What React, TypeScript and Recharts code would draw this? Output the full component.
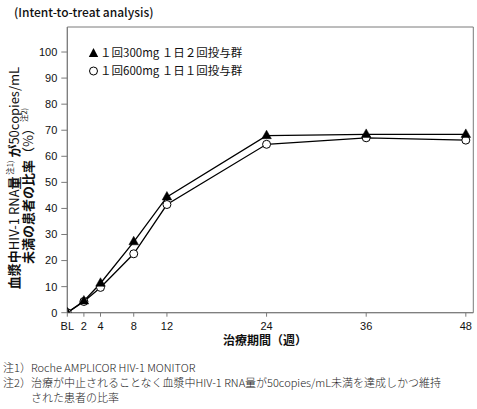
import React from 'react';
import { LineChart, Line, XAxis, YAxis, ReferenceArea } from 'recharts';

const weeks = [0, 2, 4, 8, 12, 24, 36, 48];
const twiceDaily300 = [0, 4.5, 11.3, 27.2, 44.4, 67.9, 68.4, 68.4];
const onceDaily600 = [0, 4.3, 9.7, 22.6, 41.5, 64.6, 67.1, 66.2];
const xTicks = [0, 2, 4, 8, 12, 24, 36, 48];
const xTickLabels = ['BL', '2', '4', '8', '12', '24', '36', '48'];
const yTicks = [0, 10, 20, 30, 40, 50, 60, 70, 80, 90, 100];
const seriesNames = ['１回300mg １日２回投与群', '１回600mg １日１回投与群'];

const data = weeks.map((w, i) => ({ week: w, twice: twiceDaily300[i], once: onceDaily600[i] }));

const JP = '"Noto Sans CJK JP", "Noto Sans", sans-serif';
const LAT = '"Liberation Sans", Arial, sans-serif';
const AXIS = '#7a7a7a';

const TriangleDot = (props: any) => {
  const { cx, cy, index } = props;
  if (cx == null || cy == null) return <g key={`t${index}`} />;
  return (
    <polygon
      key={`t${index}`}
      points={`${cx},${cy - 5.5} ${cx - 4.8},${cy + 3} ${cx + 4.8},${cy + 3}`}
      fill="#000"
      stroke="#000"
      strokeWidth={0.5}
    />
  );
};

const CircleDot = (props: any) => {
  const { cx, cy, index } = props;
  if (cx == null || cy == null) return <g key={`c${index}`} />;
  return <circle key={`c${index}`} cx={cx} cy={cy} r={4} fill="#fff" stroke="#000" strokeWidth={1} />;
};

export default function App() {
  return (
    <div style={{ position: 'absolute', left: 0, top: 0, width: 477, height: 409, background: '#fff' }}>
      <LineChart
        width={477}
        height={409}
        data={data}
        margin={{ top: 27, right: 3.7, bottom: 66.3, left: 7.3 }}
      >
        <XAxis
          dataKey="week"
          type="number"
          domain={[0, 48.9]}
          ticks={xTicks}
          allowDataOverflow
          height={30}
          interval={0}
          tickFormatter={(v: number) => xTickLabels[xTicks.indexOf(v)]}
          tick={{ fontFamily: LAT, fontSize: 11, fill: '#111' }}
          tickSize={4}
          tickMargin={5}
          axisLine={{ stroke: AXIS }}
          tickLine={{ stroke: AXIS }}
        />
        <YAxis
          type="number"
          domain={[0, 109.6]}
          ticks={yTicks}
          allowDataOverflow
          width={60}
          interval={0}
          tick={{ fontFamily: LAT, fontSize: 11, fill: '#111' }}
          tickSize={6}
          tickMargin={4}
          axisLine={{ stroke: AXIS }}
          tickLine={{ stroke: AXIS }}
        />
        <ReferenceArea x1={0} x2={48.9} y1={0} y2={109.6} fill="none" stroke={AXIS} strokeWidth={1} ifOverflow="visible" />
        <Line
          dataKey="once"
          name={seriesNames[1]}
          stroke="#000"
          strokeWidth={1.3}
          isAnimationActive={false}
          dot={(p: any) => <CircleDot {...p} />}
          activeDot={false}
        />
        <Line
          dataKey="twice"
          name={seriesNames[0]}
          stroke="#000"
          strokeWidth={1.3}
          isAnimationActive={false}
          dot={(p: any) => <TriangleDot {...p} />}
          activeDot={false}
        />
      </LineChart>
      <svg
        width={477}
        height={409}
        style={{ position: 'absolute', left: 0, top: 0, pointerEvents: 'none' }}
      >
        <text x={14} y={17} fontFamily={JP} fontSize={12} fontWeight={500} fill="#111">
          (Intent-to-treat analysis)
        </text>

        <g fontFamily={JP} fontSize={11.5} fill="#111">
          <polygon points="93.5,48 88.8,57 98.2,57" fill="#000" />
          <text x={100} y={57}>{seriesNames[0]}</text>
          <circle cx={93.5} cy={71} r={4} fill="#fff" stroke="#000" strokeWidth={1} />
          <text x={100} y={75}>{seriesNames[1]}</text>
        </g>

        <text
          transform="translate(19,178) rotate(-90)"
          textAnchor="middle"
          fontFamily={JP}
          fontSize={13}
          fontWeight="bold"
          fill="#111"
        >
          <tspan>血漿中</tspan>
          <tspan fontWeight="normal">HIV-1 RNA</tspan>
          <tspan>量</tspan>
          <tspan fontSize={7.5} fontWeight="normal" baselineShift="6">{' 注1)'}</tspan>
          <tspan>{' が'}</tspan>
          <tspan fontWeight="normal">50copies/mL</tspan>
        </text>
        <text
          transform="translate(33,186) rotate(-90)"
          textAnchor="middle"
          fontFamily={JP}
          fontSize={13}
          fontWeight="bold"
          fill="#111"
        >
          <tspan>未満の患者の比率</tspan>
          <tspan fontWeight="normal">（%）</tspan>
          <tspan fontSize={7.5} fontWeight="normal" baselineShift="6">注2)</tspan>
        </text>

        <text x={265} y={345} textAnchor="middle" fontFamily={JP} fontSize={12} fontWeight="bold" fill="#111">
          治療期間（週）
        </text>
        <g fontFamily={JP} fontSize={11} fill="#222" fontWeight={300}>
          <text x={3} y={372}>注1）Roche AMPLICOR HIV-1 MONITOR</text>
          <text x={3} y={387}>注2）治療が中止されることなく血漿中HIV-1 RNA量が50copies/mL未満を達成しかつ維持</text>
          <text x={31} y={402}>された患者の比率</text>
        </g>
      </svg>
    </div>
  );
}
